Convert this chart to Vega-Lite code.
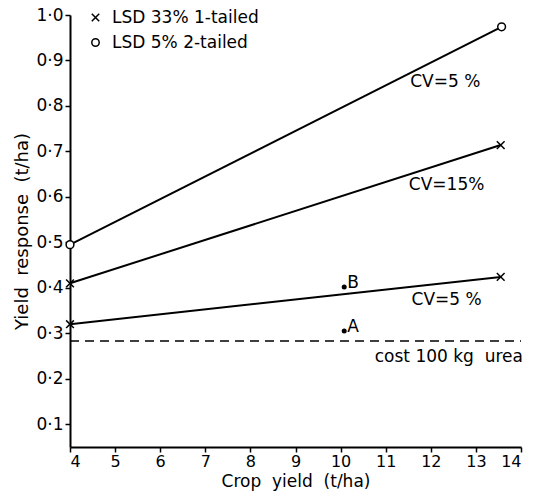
{
  "$schema": "https://vega.github.io/schema/vega-lite/v6.json",
  "width": 451,
  "height": 432,
  "autosize": "none",
  "padding": {"left": 70, "top": 15, "right": 13, "bottom": 45},
  "background": "white",
  "config": {
    "view": {"stroke": null},
    "font": "DejaVu Sans",
    "axis": {
      "domainColor": "black",
      "domainWidth": 2,
      "tickColor": "black",
      "tickWidth": 1.5,
      "tickSize": 5,
      "labelColor": "black",
      "labelFontSize": 17,
      "labelFont": "DejaVu Sans",
      "titleFont": "DejaVu Sans",
      "titleFontSize": 18,
      "titleFontWeight": "normal",
      "titleColor": "black",
      "grid": false
    },
    "legend": {
      "labelFontSize": 17,
      "labelFont": "DejaVu Sans",
      "labelColor": "black",
      "symbolSize": 55,
      "rowPadding": 7,
      "labelOffset": 8
    }
  },
  "datasets": {
    "lines": [
      {"series": "CV5 two-tailed", "test": "LSD 5% 2-tailed", "x": 4, "y": 0.495},
      {"series": "CV5 two-tailed", "test": "LSD 5% 2-tailed", "x": 13.57, "y": 0.974},
      {"series": "CV15 one-tailed", "test": "LSD 33% 1-tailed", "x": 4, "y": 0.41},
      {"series": "CV15 one-tailed", "test": "LSD 33% 1-tailed", "x": 13.55, "y": 0.714},
      {"series": "CV5 one-tailed", "test": "LSD 33% 1-tailed", "x": 4, "y": 0.32},
      {"series": "CV5 one-tailed", "test": "LSD 33% 1-tailed", "x": 13.55, "y": 0.424}
    ],
    "cost": [
      {"x": 4, "y": 0.283},
      {"x": 14, "y": 0.283}
    ],
    "pts": [
      {"x": 10.08, "y": 0.305, "label": "A"},
      {"x": 10.08, "y": 0.402, "label": "B"}
    ],
    "notes": [
      {"x": 12.32, "y": 0.853, "text": "CV=5 %"},
      {"x": 12.35, "y": 0.626, "text": "CV=15%"},
      {"x": 12.35, "y": 0.374, "text": "CV=5 %"},
      {"x": 12.4, "y": 0.248, "text": "cost 100 kg\u00a0 urea"}
    ]
  },
  "layer": [
    {
      "data": {"name": "lines"},
      "mark": {"type": "line", "color": "black", "strokeWidth": 2},
      "encoding": {
        "x": {
          "field": "x", "type": "quantitative",
          "scale": {"domain": [4, 14], "nice": false, "zero": false},
          "axis": {"values": [4, 5, 6, 7, 8, 9, 10, 11, 12, 13, 14], "title": "Crop\u00a0 yield\u00a0 (t/ha)", "titleFontSize": 17, "labelFontSize": 16, "titlePadding": 4, "labelPadding": 1}
        },
        "y": {
          "field": "y", "type": "quantitative",
          "scale": {"domain": [0.05, 1.0], "nice": false, "zero": false},
          "axis": {
            "values": [0.1, 0.2, 0.3, 0.4, 0.5, 0.6, 0.7, 0.8, 0.9, 1.0],
            "labelExpr": "replace(format(datum.value, '.1f'), '.', '·')",
            "title": "Yield\u00a0 response\u00a0 (t/ha)",
            "titleFontSize": 18,
            "titlePadding": 4,
            "labelPadding": 2
          }
        },
        "detail": {"field": "series"}
      }
    },
    {
      "data": {"name": "cost"},
      "mark": {"type": "line", "color": "black", "strokeWidth": 1.5, "strokeDash": [9, 6]},
      "encoding": {
        "x": {"field": "x", "type": "quantitative"},
        "y": {"field": "y", "type": "quantitative"}
      }
    },
    {
      "data": {"name": "lines"},
      "mark": {"type": "point", "filled": false, "fill": "white", "stroke": "black", "strokeWidth": 1.5, "opacity": 1, "size": 60},
      "encoding": {
        "x": {"field": "x", "type": "quantitative"},
        "y": {"field": "y", "type": "quantitative"},
        "shape": {
          "field": "test", "type": "nominal",
          "scale": {"domain": ["LSD 33% 1-tailed", "LSD 5% 2-tailed"], "range": ["M-1,-1L1,1M-1,1L1,-1", "circle"]},
          "legend": {
            "title": null, "orient": "none", "legendX": 17, "legendY": -6,
            "encode": {
              "symbols": {"update": {"stroke": {"value": "black"}, "fill": {"value": "white"}, "strokeWidth": {"value": 1.5}, "opacity": {"value": 1}}}
            }
          }
        }
      }
    },
    {
      "data": {"name": "pts"},
      "mark": {"type": "point", "filled": true, "color": "black", "size": 25, "opacity": 1},
      "encoding": {
        "x": {"field": "x", "type": "quantitative"},
        "y": {"field": "y", "type": "quantitative"}
      }
    },
    {
      "data": {"name": "pts"},
      "mark": {"type": "text", "align": "left", "baseline": "bottom", "dx": 3, "dy": 5, "fontSize": 17, "color": "black"},
      "encoding": {
        "x": {"field": "x", "type": "quantitative"},
        "y": {"field": "y", "type": "quantitative"},
        "text": {"field": "label"}
      }
    },
    {
      "data": {"name": "notes"},
      "mark": {"type": "text", "align": "center", "baseline": "middle", "fontSize": 17, "color": "black"},
      "encoding": {
        "x": {"field": "x", "type": "quantitative"},
        "y": {"field": "y", "type": "quantitative"},
        "text": {"field": "text"}
      }
    }
  ]
}
